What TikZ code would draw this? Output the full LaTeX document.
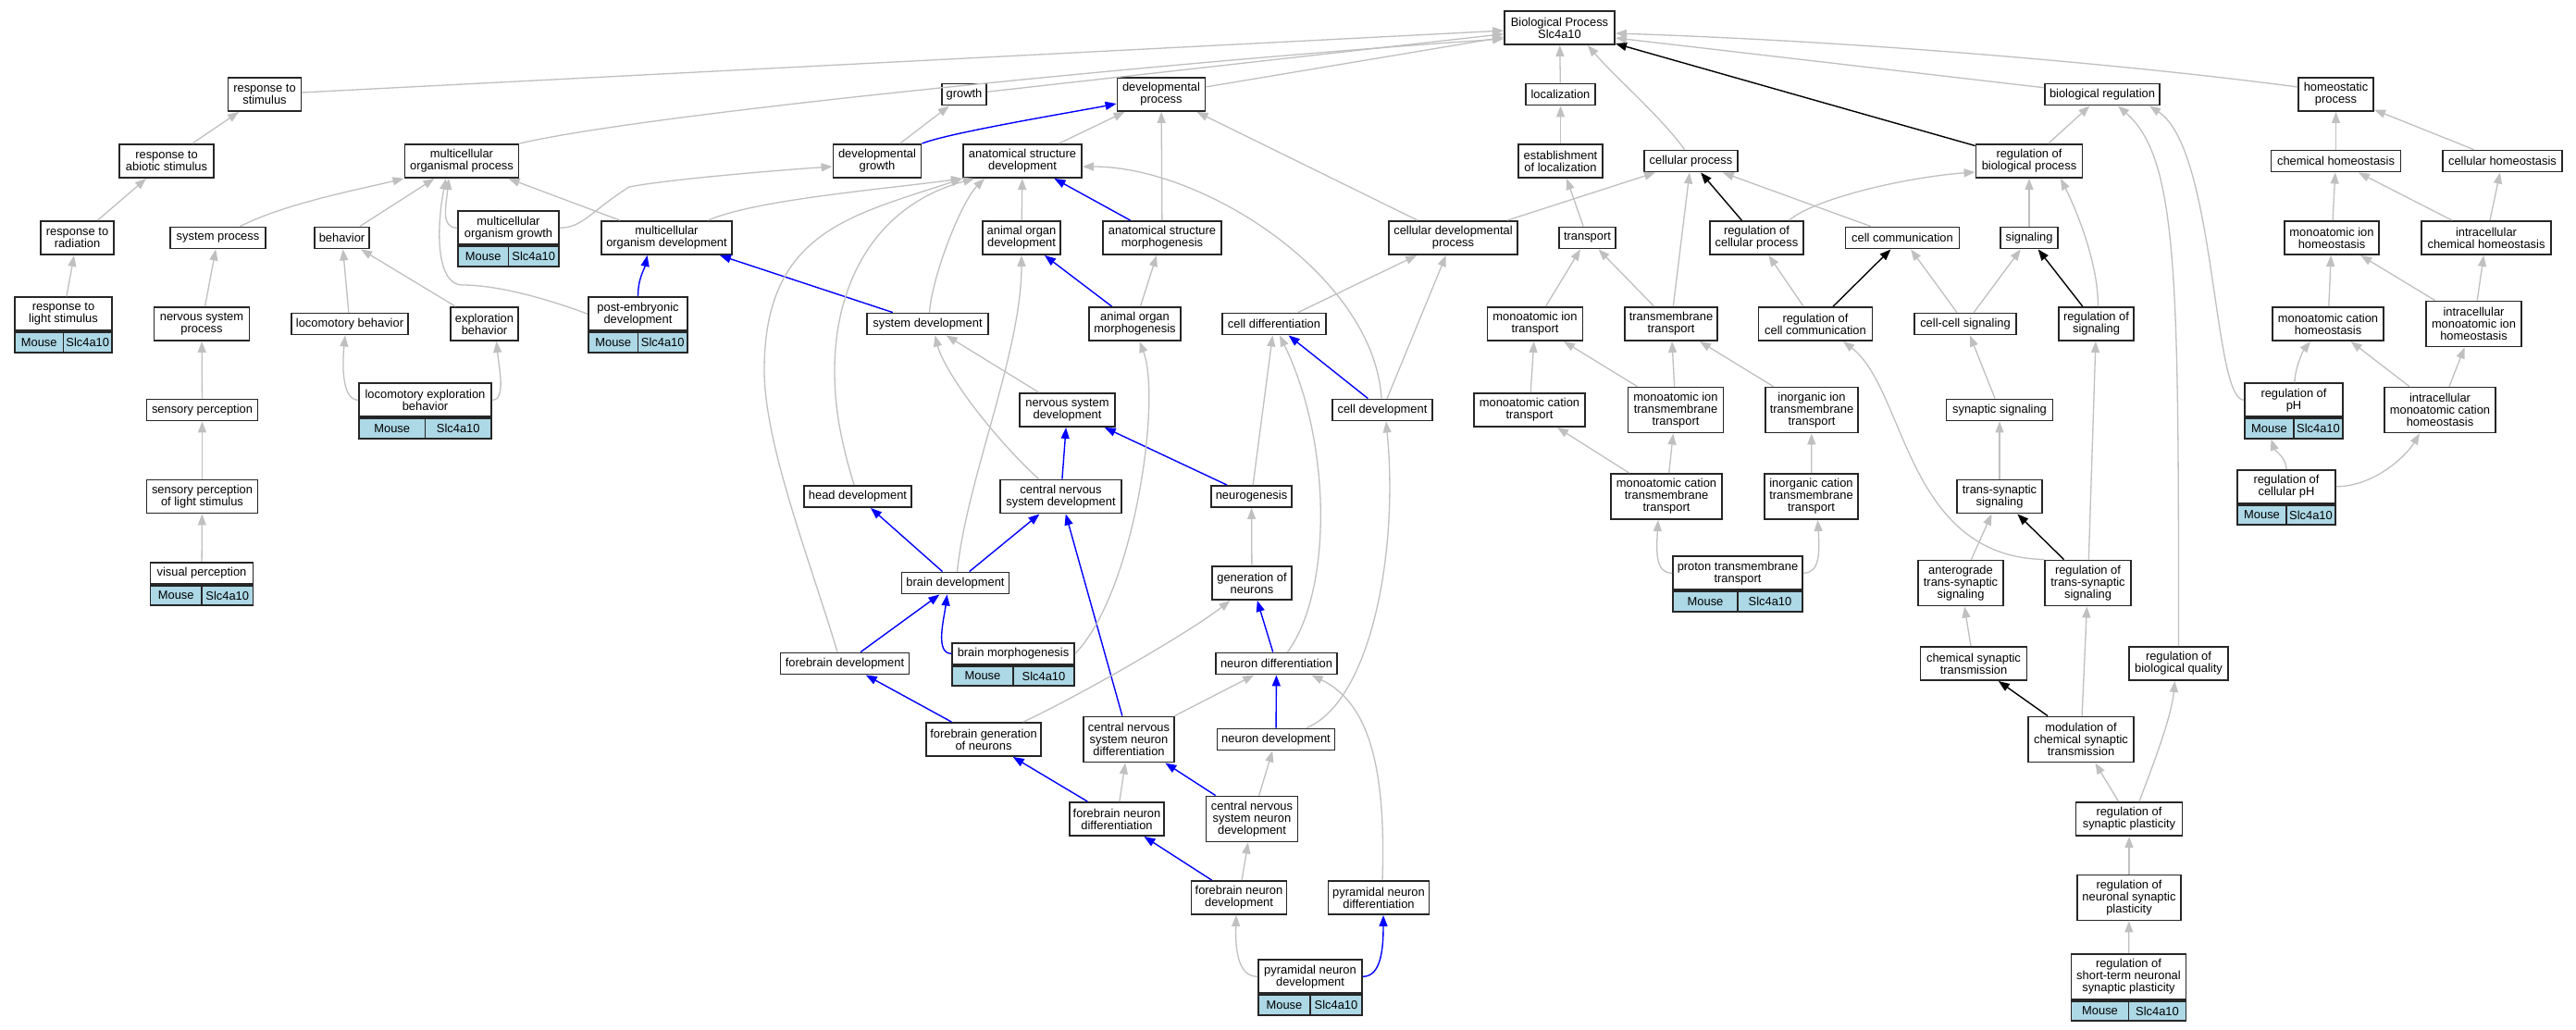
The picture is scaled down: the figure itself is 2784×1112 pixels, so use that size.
\documentclass[tikz,border=0pt]{standalone}
\usepackage{fontspec}
\setmainfont{Liberation Sans}
\usetikzlibrary{arrows.meta}
\definecolor{edgegray}{RGB}{192,192,192}
\definecolor{genecell}{RGB}{173,216,230}
\begin{document}
\begin{tikzpicture}[x=1pt,y=1pt,
	term node/.style={draw=black!85,line width=1.9pt,fill=white,align=center,inner sep=2pt,font=\fontsize{12.9}{13}\selectfont},
	gene cell/.style={term node,fill=genecell,minimum height=21.5pt},
	is a/.style={color=edgegray,line width=1.3pt,-{Triangle[length=12pt,width=9pt]}},
	part of/.style={color=blue,line width=1.4pt,-{Triangle[length=12pt,width=9pt]}},
	regulates/.style={color=black,line width=1.4pt,-{Triangle[length=12pt,width=9pt]}}
]

	\fill[white] (0,0) rectangle (2784,-1112);
	\useasboundingbox (0,0) rectangle (2784,-1112);

	\foreach \id/\xx/\yy/\ww/\hh/\txt in {
		bp/1685.5/30/119/36/{Biological Process\\Slc4a10},
		respstim/286/102/79/36/{response to\\stimulus},
		growth/1042/102/48/23/{growth},
		devproc/1255/102/95/36/{developmental\\process},
		loc/1686.5/102/75/23/{localization},
		bioreg/2272/102/124/23/{biological regulation},
		homeo/2524.5/102/81/36/{homeostatic\\process},
		respabio/180/174/102/36/{response to\\abiotic stimulus},
		mop/499/174/123/36/{multicellular\\organismal process},
		devgrowth/948/174/95/36/{developmental\\growth},
		asd/1105/174/128/36/{anatomical structure\\development},
		estloc/1686.5/174/91/36/{establishment\\of localization},
		cellproc/1827.5/174/101/23/{cellular process},
		regbp/2193/174/115/36/{regulation of\\biological process},
		chemhomeo/2524.5/174/140/23/{chemical homeostasis},
		cellhomeo/2704.5/174/129/23/{cellular homeostasis},
		resprad/83.5/257/79/36/{response to\\radiation},
		sysproc/235.5/257/103/23/{system process},
		behavior/369.5/257/59/23/{behavior},
		mog/549.5/246.25/109/36/{multicellular\\organism growth},
		mod/720.5/257/141/36/{multicellular\\organism development},
		aod/1104/257/84/36/{animal organ\\development},
		asm/1256/257/128.5/36/{anatomical structure\\morphogenesis},
		cdp/1570.5/257/139/36/{cellular developmental\\process},
		transport/1715.5/257/61.5/23/{transport},
		regcp/1898.5/257/101/36/{regulation of\\cellular process},
		cellcomm/2056/257/123/23/{cell communication},
		signaling/2193/257/61.5/23/{signaling},
		maih/2520/257/102/36/{monoatomic ion\\homeostasis},
		icch/2687/257/140/36/{intracellular\\chemical homeostasis},
		resplight/68.5/339.25/105/36/{response to\\light stimulus},
		nsp/218/350/103/36/{nervous system\\process},
		loco/378/350/126/23/{locomotory behavior},
		explo/523.5/350/73/36/{exploration\\behavior},
		ped/689.5/339.25/107/36/{post-embryonic\\development},
		sysdev/1002.5/350/131/23/{system development},
		aom/1226.5/350/99/36/{animal organ\\morphogenesis},
		celldiff/1377/350/112/23/{cell differentiation},
		maitr/1659/350/103/36/{monoatomic ion\\transport},
		tmt/1806/350/100/36/{transmembrane\\transport},
		regcc/1962/350/123/36/{regulation of\\cell communication},
		cellcell/2124/350/110/23/{cell-cell signaling},
		regsig/2265.5/350/81/36/{regulation of\\signaling},
		mcath/2516/350/120/36/{monoatomic cation\\homeostasis},
		imih/2673.5/350/103/49/{intracellular\\monoatomic ion\\homeostasis},
		sensp/218.5/443/120/23/{sensory perception},
		leb/459.5/432.25/143/36/{locomotory exploration\\behavior},
		nsd/1153.5/443/103/36/{nervous system\\development},
		celldev/1494/443/108/23/{cell development},
		mcattr/1653/443/120/36/{monoatomic cation\\transport},
		maitmt/1811/443/103/49/{monoatomic ion\\transmembrane\\transport},
		iitmt/1958/443/100/49/{inorganic ion\\transmembrane\\transport},
		synsig/2161/443/115/23/{synaptic signaling},
		regph/2479/432.25/106/36/{regulation of\\pH},
		imcath/2637/443/120/49/{intracellular\\monoatomic cation\\homeostasis},
		splight/218.5/536.5/120/36/{sensory perception\\of light stimulus},
		headdev/927/536.5/116.5/23/{head development},
		cnsd/1146.5/536.5/131/36/{central nervous\\system development},
		neurogen/1352.5/536.5/87/23/{neurogenesis},
		mcattmt/1801/536.5/120/49/{monoatomic cation\\transmembrane\\transport},
		icattmt/1957.5/536.5/101/49/{inorganic cation\\transmembrane\\transport},
		tss/2161/536.5/92/36/{trans-synaptic\\signaling},
		regcph/2471/525.75/106/36/{regulation of\\cellular pH},
		visp/218/619.25/111/23/{visual perception},
		braindev/1032.5/630/116/23/{brain development},
		genneur/1353/630/86/36/{generation of\\neurons},
		ptt/1878/619.25/140/36/{proton transmembrane\\transport},
		ants/2119/630/92/49/{anterograde\\trans-synaptic\\signaling},
		regtss/2256.5/630/92.5/49/{regulation of\\trans-synaptic\\signaling},
		forebraindev/913/717/139/23/{forebrain development},
		brainmorph/1095/706.25/132/23/{brain morphogenesis},
		neurdiff/1379.5/717/131/23/{neuron differentiation},
		cst/2133/717/115/36/{chemical synaptic\\transmission},
		rbq/2354.5/717/107/36/{regulation of\\biological quality},
		fgn/1063/799/124/36/{forebrain generation\\of neurons},
		cnsnd/1220/799/98.5/49/{central nervous\\system neuron\\differentiation},
		neurdev/1379/799/127/23/{neuron development},
		mcst/2249/799/114/49/{modulation of\\chemical synaptic\\transmission},
		fnd/1207/885/102/36/{forebrain neuron\\differentiation},
		cnsndev/1353/885/99/49/{central nervous\\system neuron\\development},
		rsp/2301/885/115/36/{regulation of\\synaptic plasticity},
		fndev/1339/970/103/36/{forebrain neuron\\development},
		pyrdiff/1490/970/109/36/{pyramidal neuron\\differentiation},
		rnsp/2301/970/112/49/{regulation of\\neuronal synaptic\\plasticity},
		pyrdev/1416/1055.25/112/36/{pyramidal neuron\\development},
		rstnsp/2300.5/1055.25/124/49/{regulation of\\short-term neuronal\\synaptic plasticity}}
		\node[term node,minimum width=\ww,minimum height=\hh] (\id) at (\xx,-\yy) {\txt};

	\foreach \id/\ww in {mog/109,resplight/105,ped/107,leb/143,regph/106,regcph/106,visp/111,ptt/140,brainmorph/132,pyrdev/112,rstnsp/124} {
		\node[gene cell,minimum width=\ww/2,anchor=north west] (\id-m) at (\id.south west) {Mouse};
		\node[gene cell,minimum width=\ww/2,anchor=north east] (\id-g) at (\id.south east) {Slc4a10};
	}

	\foreach \src/\dst in {respstim/bp,growth/bp,devproc/bp,loc/bp,respabio/respstim,resprad/respabio,resplight/resprad,
		behavior/mop,mod/mop,nsp/sysproc,sensp/nsp,splight/sensp,visp/splight,loco/behavior,explo/behavior,
		devgrowth/growth,asd/devproc,asm/devproc,cdp/devproc,aod/asd,cdp/cellproc,aom/asm,nsd/sysdev,
		genneur/neurogen,neurogen/celldiff,celldiff/cdp,celldev/cdp,cnsnd/neurdiff,fnd/cnsnd,cnsndev/neurdev,fndev/cnsndev,
		estloc/loc,transport/estloc,tmt/cellproc,cellcomm/cellproc,maitr/transport,tmt/transport,mcattr/maitr,maitmt/maitr,
		maitmt/tmt,iitmt/tmt,regcc/regcp,cellcell/cellcomm,mcattmt/mcattr,mcattmt/maitmt,icattmt/iitmt,
		cellcell/signaling,signaling/regbp,regbp/bioreg,chemhomeo/homeo,cellhomeo/homeo,maih/chemhomeo,icch/chemhomeo,
		icch/cellhomeo,mcath/maih,imih/maih,imih/icch,imcath/mcath,imcath/imih,
		synsig/cellcell,tss/synsig,ants/tss,regtss/regsig,cst/ants,mcst/regtss,rsp/mcst,rnsp/rsp,rstnsp/rnsp}
		\draw[is a] (\src) -- (\dst);

	\foreach \src/\dst in {sysdev/mod,asm/asd,aom/aod,cnsd/nsd,neurogen/nsd,braindev/headdev,braindev/cnsd,forebraindev/braindev,
		cnsnd/cnsd,fgn/forebraindev,neurdiff/genneur,celldev/celldiff,neurdev/neurdiff,fnd/fgn,cnsndev/cnsnd,fndev/fnd}
		\draw[part of] (\src) -- (\dst);

	\foreach \src/\dst in {regbp/bp,regcp/cellproc,regcc/cellcomm,regsig/signaling,regtss/tss,mcst/cst}
		\draw[regulates] (\src) -- (\dst);

	\draw[is a] (mop.north east) .. controls +(150,35) and +(-300,-20) .. ([yshift=-12pt]bp.west);
	\draw[is a] ([xshift=-7pt]cellproc.north) .. controls +(-25,35) and +(30,-35) .. ([xshift=-30pt]bp.south east);
	\draw[is a] (bioreg) -- ([yshift=-11pt]bp.east);
	\draw[is a] ([yshift=8pt]homeo.west) .. controls +(-150,20) and +(300,-10) .. ([yshift=-6pt]bp.east);
	\draw[is a] ([xshift=24pt]sysproc.north) .. controls +(50,25) and +(-50,-12) .. (mop.south west);
	\draw[is a] (mog.west) .. controls +(-18,0) and +(-3,-30) .. ([xshift=-14pt]mop.south);
	\draw[is a] (ped.west) .. controls +(-40,15) and +(40,0) .. (500,-308) .. controls +(-30,0) and +(-10,-50) .. ([xshift=-17pt]mop.south);
	\draw[is a] (mog.east) .. controls +(25,0) and +(-40,-25) .. (680,-202) .. controls +(40,8) and +(-60,-4) .. ([yshift=-6pt]devgrowth.west);
	\draw[is a] (leb.west) .. controls +(-18,0) and +(-3,-30) .. ([xshift=-5pt]loco.south);
	\draw[is a] (leb.east) .. controls +(15,0) and +(3,-30) .. ([xshift=13pt]explo.south);
	\draw[is a] ([xshift=45pt]mod.north) .. controls +(50,22) and +(-90,-12) .. (asd.south west);
	\draw[is a] ([xshift=-8pt]forebraindev.north) .. controls +(-30,100) and +(0,-80) .. (826,-400) .. controls +(0,150) and +(-120,-40) .. (asd.south west);
	\draw[is a] ([xshift=-4pt]headdev.north) .. controls +(-15,50) and +(0,-40) .. (902,-400) .. controls +(0,90) and +(-110,-30) .. ([xshift=-52pt]asd.south);
	\draw[is a] ([xshift=2pt]sysdev.north) .. controls +(3,40) and +(-25,-25) .. ([xshift=-41pt]asd.south);
	\draw[is a] ([xshift=-1pt]celldev.north) .. controls +(-8,132) and +(131,0) .. ([yshift=-6pt]asd.east);
	\draw[is a] ([xshift=-24pt]cnsd.north) .. controls +(-52,48) and +(10,-39) .. ([xshift=8pt]sysdev.south);
	\draw[is a] ([xshift=2pt]braindev.north) .. controls +(10,99) and +(0,-105) .. (aod.south);
	\draw[is a] (brainmorph.east) .. controls +(64,66) and +(24,-62) .. ([xshift=5pt]aom.south);
	\draw[is a] ([xshift=43pt]fgn.north) .. controls +(60,28) and +(-45,-35) .. ([xshift=-23.5pt]genneur.south);
	\draw[is a] ([xshift=12pt]neurdiff.north) .. controls +(48,65) and +(57,-117) .. ([xshift=6pt]celldiff.south);
	\draw[is a] ([xshift=33pt]neurdev.north) .. controls +(68,28) and +(14,-145) .. ([xshift=4pt]celldev.south);
	\draw[is a] ([xshift=4pt]pyrdiff.north) .. controls +(4,122) and +(62,-30) .. ([xshift=38pt]neurdiff.south);
	\draw[is a] (pyrdev.west) .. controls +(-22,0) and +(-1,-35) .. ([xshift=-3pt]fndev.south);
	\draw[is a] ([xshift=35pt]regcp.north) .. controls +(30,25) and +(-70,-5) .. ([yshift=-12pt]regbp.west);
	\draw[is a] (ptt.west) .. controls +(-18,0) and +(-2,-35) .. ([xshift=-9pt]mcattmt.south);
	\draw[is a] (ptt.east) .. controls +(18,0) and +(2,-35) .. ([xshift=7pt]icattmt.south);
	\draw[is a] (regtss.north west) .. controls +(-150,3) and +(68,-52) .. ([xshift=30pt]regcc.south);
	\draw[is a] ([xshift=2pt]regsig.north) .. controls +(0,50) and +(15,-30) .. ([xshift=34pt]regbp.south);
	\draw[is a] (rbq.north) .. controls +(0,399) and +(65,-57) .. ([xshift=17pt]bioreg.south);
	\draw[is a] (regph.west) .. controls +(-34,0) and +(72,-47) .. ([xshift=51pt]bioreg.south);
	\draw[is a] ([xshift=1pt]regph.north) .. controls +(0,15) and +(-8,-10) .. ([xshift=-19pt]mcath.south);
	\draw[is a] (regcph.north) .. controls +(0,12) and +(4,-12) .. ([xshift=2pt]regph-m.south);
	\draw[is a] (regcph.east) .. controls +(40,0) and +(-15,-25) .. ([xshift=-22pt]imcath.south);
	\draw[is a] ([xshift=11pt]rsp.north) .. controls +(15,40) and +(-4,-40) .. ([xshift=-4pt]rbq.south);

	\draw[part of] (ped.north) .. controls +(0,20) and +(-3,-15) .. ([xshift=-21pt]mod.south);
	\draw[part of] (devgrowth.north east) .. controls +(30,12) and +(-40,-8) .. ([yshift=-10pt]devproc.west);
	\draw[part of] (brainmorph.west) .. controls +(-18,0) and +(-3,-25) .. ([xshift=-9pt]braindev.south);
	\draw[part of] (pyrdev.east) .. controls +(20,0) and +(0,-35) .. ([xshift=5pt]pyrdiff.south);
\end{tikzpicture}
\end{document}
